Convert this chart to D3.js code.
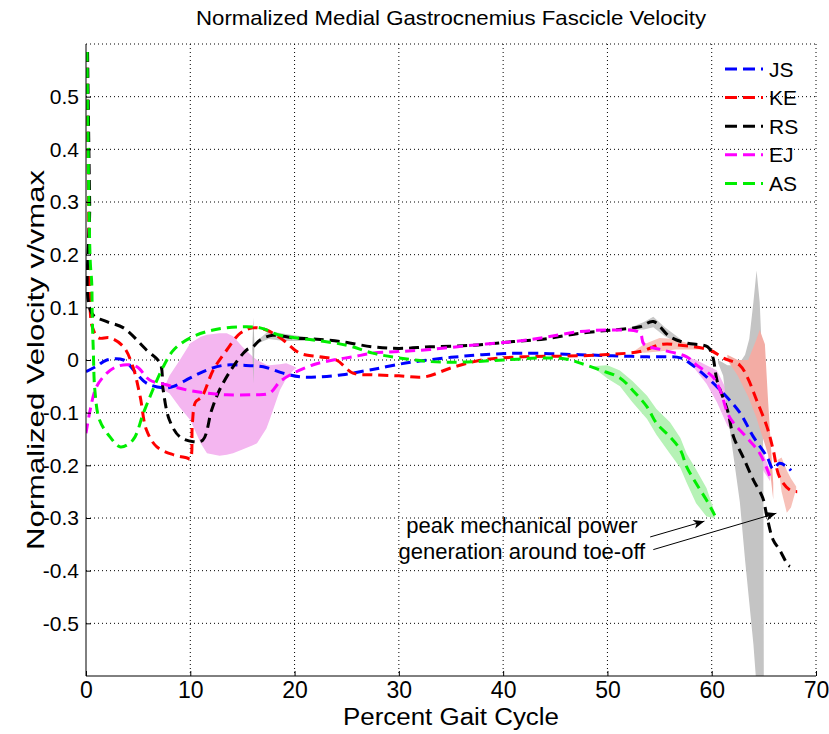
<!DOCTYPE html>
<html>
<head>
<meta charset="utf-8">
<script src="https://cdn.jsdelivr.net/npm/d3@7"></script>
<style>
  body { margin: 0; background: #fff; }
  svg text { font-family: "Liberation Sans", Arial, sans-serif; fill: #000; }
</style>
</head>
<body>
<svg width="829" height="734"></svg>
<script>
// mean curves, [percent gait cycle, v/vmax]
var jsData = [[0,-0.022],[1,-0.012],[2,0],[3.6,0],[4.8,-0.025],[5.8,-0.044],[7.4,-0.053],[8.4,-0.05],[10,-0.034],[11.6,-0.019],[13.2,-0.01],[15,-0.01],[17,-0.013],[18.9,-0.025],[20.5,-0.032],[22.4,-0.032],[24.6,-0.028],[26.9,-0.02],[28,-0.016],[30,-0.008],[32,-0.002],[35,0.005],[38,0.01],[42,0.013],[47.4,0.01],[50.5,0.008],[53.8,0.006],[57,0.004],[57.9,-0.006],[59.5,-0.032],[61.1,-0.063],[62.7,-0.1],[64,-0.146],[65.3,-0.184],[65.9,-0.207],[66.5,-0.196],[67.3,-0.204],[67.6,-0.21]];
var keData = [[0.1,0.585],[0.25,0.3],[0.4,0.095],[0.6,0.063],[1.2,0.042],[2.3,0.042],[3.6,0.025],[4.5,-0.013],[5.2,-0.07],[5.8,-0.133],[6.8,-0.165],[8.4,-0.18],[9.7,-0.186],[10,-0.188],[10.2,-0.12],[10.5,-0.08],[11.1,-0.07],[12.2,-0.019],[13.5,0.019],[14.8,0.051],[16,0.061],[17.3,0.057],[18.9,0.038],[20.5,0.013],[22.4,0.006],[24,0],[25.6,-0.025],[27.5,-0.028],[30,-0.03],[32.5,-0.032],[35,-0.015],[38,0],[42,0.006],[47.4,0.008],[50.5,0.011],[53.1,0.016],[55.3,0.03],[57,0.028],[59.8,0.019],[61.1,0.004],[62.7,-0.01],[63.4,-0.032],[64.3,-0.076],[65.3,-0.127],[65.9,-0.171],[66.5,-0.222],[67.5,-0.247],[68.2,-0.25]];
var rsData = [[0.15,0.585],[0.35,0.3],[0.55,0.089],[2,0.073],[3.6,0.061],[5.8,0.019],[7.1,-0.006],[7.4,-0.057],[8,-0.114],[9,-0.146],[10.3,-0.155],[11.2,-0.152],[12.05,-0.095],[12.8,-0.057],[14.1,-0.013],[15.4,0.019],[16,0.025],[16.7,0.038],[17.9,0.047],[19.9,0.042],[21.8,0.04],[24.4,0.035],[27.5,0.025],[30,0.022],[33,0.025],[37,0.028],[41,0.035],[44,0.04],[47.4,0.051],[50.5,0.057],[53.1,0.063],[54.4,0.073],[56,0.044],[57.6,0.032],[59.6,0.025],[60.1,0.006],[60.5,-0.038],[61.5,-0.095],[62.1,-0.146],[63,-0.184],[64,-0.228],[64.9,-0.262],[65.3,-0.298],[65.9,-0.342],[66.5,-0.36],[67.3,-0.389],[67.5,-0.392]];
var ejData = [[0,-0.139],[0.4,-0.095],[1,-0.051],[2,-0.025],[2.9,-0.013],[3.9,-0.009],[4.9,-0.013],[6.1,-0.038],[7.7,-0.047],[9.7,-0.057],[11.6,-0.063],[13.5,-0.066],[16,-0.066],[17.6,-0.063],[18.6,-0.041],[19.9,-0.025],[21.8,-0.009],[23.7,0],[25.6,0.006],[27.5,0.013],[30,0.016],[33,0.02],[37,0.028],[41,0.035],[44,0.043],[47.4,0.054],[50.5,0.057],[53.1,0.052],[53.5,0.03],[55.3,0.019],[57.6,0.006],[58.5,-0.009],[60.1,-0.032],[60.8,-0.057],[61.7,-0.108],[63.3,-0.146],[64.6,-0.177],[65.6,-0.222]];
var asData = [[0.1,0.585],[0.4,0.19],[0.55,0.146],[0.6,0.082],[0.7,0.019],[0.85,-0.057],[1.3,-0.114],[2.3,-0.146],[3.3,-0.165],[4.5,-0.152],[5.5,-0.101],[6.4,-0.057],[7.4,-0.013],[8.4,0.019],[10,0.042],[12.2,0.057],[14.8,0.063],[16.7,0.061],[18.6,0.047],[21.8,0.038],[25,0.028],[27.5,0.013],[30,0.004],[33,-0.003],[36,-0.004],[40,0],[44,0.004],[46,0.002],[47.4,-0.006],[49.3,-0.019],[51.2,-0.034],[52.4,-0.057],[53.8,-0.089],[54.7,-0.12],[56,-0.146],[57,-0.171],[57.6,-0.203],[58.5,-0.234],[59.5,-0.266],[60.3,-0.295]];

// spread bands, [x, low, high]
var ejBand1 = [[7.4,-0.057,-0.057],[8,-0.063,-0.03],[9,-0.09,0],[10,-0.114,0.032],[11,-0.158,0.044],[11.6,-0.177,0.048],[12.8,-0.182,0.051],[13.5,-0.18,0.051],[14.1,-0.177,0.045],[15,-0.17,0.025],[16,-0.162,0.006],[16.4,-0.158,0],[17.3,-0.13,-0.009],[17.6,-0.114,-0.01],[18.6,-0.057,-0.008],[19.2,-0.035,-0.006],[19.9,-0.019,-0.012],[20.2,-0.015,-0.015]];
var ejBand2 = [[57.5,0.006,0.006],[58.5,-0.02,0],[59.5,-0.045,-0.01],[60.5,-0.08,-0.02],[61.5,-0.125,-0.06],[62.5,-0.145,-0.1],[63.5,-0.17,-0.13],[64.6,-0.2,-0.16],[65.6,-0.23,-0.21]];
var keBand1 = [[52.5,0.016,0.016],[53.5,0.014,0.03],[55,0.016,0.042],[56.5,0.02,0.04],[58,0.02,0.03],[59,0.02,0.02]];
var keBand2 = [[61.5,0,0.01],[62.5,-0.03,0],[63.5,-0.07,0],[64.3,-0.11,0.04],[64.6,-0.13,0.057],[65.1,-0.16,0.03],[65.4,-0.18,-0.076],[65.7,-0.23,-0.171],[65.9,-0.265,-0.234]];
var keBand3 = [[66.3,-0.19,-0.19],[66.7,-0.25,-0.185],[67.2,-0.29,-0.21],[67.6,-0.28,-0.225],[68.1,-0.245,-0.24]];
var rsBand1 = [[15.95,0.02,0.025],[16.05,-0.045,0.08],[16.15,0.028,0.03]];
var rsBand2 = [[16.5,0.032,0.038],[17.5,0.04,0.055],[19,0.036,0.05],[21,0.036,0.044],[22,0.04,0.04]];
var rsBand3 = [[52,0.058,0.06],[53.5,0.058,0.072],[54.4,0.062,0.082],[55.5,0.045,0.062],[57,0.03,0.04]];
var rsBand4 = [[60.6,-0.005,0],[61.1,-0.03,-0.005],[61.5,-0.1,-0.01],[62,-0.17,-0.01],[62.7,-0.27,-0.005],[63.2,-0.38,0.01],[63.6,-0.46,0.04],[64,-0.54,0.11],[64.3,-0.62,0.17],[64.6,-0.65,0.11],[64.8,-0.65,0.02],[64.95,-0.65,-0.2],[65,-0.65,-0.65]];
var asBand = [[48.5,-0.012,-0.012],[50,-0.035,-0.01],[51.2,-0.05,-0.02],[52.4,-0.08,-0.04],[53.8,-0.112,-0.068],[54.7,-0.142,-0.093],[56,-0.178,-0.118],[57,-0.205,-0.148],[57.6,-0.233,-0.178],[58.5,-0.272,-0.208],[59.5,-0.297,-0.243],[60.3,-0.3,-0.29]];

var names = ['JS', 'KE', 'RS', 'EJ', 'AS'];
var colors = ['#0000ff', '#ff0000', '#000000', '#ff00ff', '#00ee00'];
var xTicks = [0, 10, 20, 30, 40, 50, 60, 70];
var yTicks = [-0.5, -0.4, -0.3, -0.2, -0.1, 0, 0.1, 0.2, 0.3, 0.4, 0.5];
var noteLines = ['peak mechanical power', 'generation around toe-off'];

var svg = d3.select('svg');
var pLeft = 86, pRight = 816, pTop = 44, pBottom = 676;

var x = d3.scaleLinear().domain([0, 70]).range([pLeft, pRight]);
var y = d3.scaleLinear().domain([-0.6, 0.6]).range([pBottom, pTop]);

svg.append('clipPath').attr('id', 'plot')
  .append('rect').attr('x', pLeft).attr('y', pTop)
  .attr('width', pRight - pLeft).attr('height', pBottom - pTop);

// dotted grid
svg.selectAll('.gx').data(xTicks.slice(1)).enter().append('line')
  .attr('x1', function (d) { return x(d); }).attr('x2', function (d) { return x(d); })
  .attr('y1', pTop).attr('y2', pBottom)
  .attr('stroke', '#000').attr('stroke-width', 1).attr('stroke-dasharray', '1,3');
svg.selectAll('.gy').data(yTicks.concat([0.6])).enter().append('line')
  .attr('x1', pLeft).attr('x2', pRight)
  .attr('y1', function (d) { return y(d); }).attr('y2', function (d) { return y(d); })
  .attr('stroke', '#000').attr('stroke-width', 1).attr('stroke-dasharray', '1,3');

// bands
var area = d3.area()
  .x(function (d) { return x(d[0]); })
  .y0(function (d) { return y(d[1]); })
  .y1(function (d) { return y(d[2]); });

var bands = [
  [ejBand1, '#f4b6f0'], [ejBand2, '#f4b6f0'],
  [asBand, '#b6f2b6'],
  [rsBand1, '#b8b8b8'], [rsBand2, '#c8c8c8'], [rsBand3, '#c8c8c8'], [rsBand4, '#c4c4c4'],
  [keBand1, '#f7c4bc'], [keBand2, '#f3aca4'], [keBand3, '#f7c0b8']
];
var bandG = svg.append('g').attr('clip-path', 'url(#plot)');
bands.forEach(function (b) {
  bandG.append('path').attr('d', area(b[0])).attr('fill', b[1]).attr('stroke', 'none');
});

// mean curves, drawn in legend order (AS ends on top)
var line = d3.line()
  .x(function (d) { return x(d[0]); })
  .y(function (d) { return y(d[1]); })
  .curve(d3.curveCatmullRom.alpha(0.5));

var series = [jsData, keData, rsData, ejData, asData];
var lineG = svg.append('g').attr('clip-path', 'url(#plot)');
series.forEach(function (s, i) {
  lineG.append('path').attr('d', line(s))
    .attr('fill', 'none').attr('stroke', colors[i])
    .attr('stroke-width', 3).attr('stroke-dasharray', '10,6');
});

// axes (MATLAB style, ticks inside)
var xAxis = d3.axisBottom(x).tickValues(xTicks).tickSize(-5).tickPadding(5)
  .tickFormat(d3.format('d'));
var gx = svg.append('g').attr('transform', 'translate(0,' + pBottom + ')').call(xAxis);
gx.select('.domain').attr('d', 'M' + pLeft + ',0H' + pRight).attr('stroke', '#000');
gx.selectAll('.tick line').attr('stroke', '#000');
gx.selectAll('.tick text').attr('font-size', 23).attr('dy', '0.72em')
  .style('font-family', '"Liberation Sans", Arial, sans-serif');

var yAxis = d3.axisLeft(y).tickValues(yTicks).tickSize(-5).tickPadding(7)
  .tickFormat(function (d) { return d === 0 ? '0' : d3.format('.1f')(d).replace('−', '-'); });
var gy = svg.append('g').attr('transform', 'translate(' + pLeft + ',0)').call(yAxis);
gy.select('.domain').attr('d', 'M0,' + pTop + 'V' + pBottom).attr('stroke', '#000');
gy.selectAll('.tick line').attr('stroke', '#000');
gy.selectAll('.tick text').attr('font-size', 21)
  .style('font-family', '"Liberation Sans", Arial, sans-serif');

// titles
svg.append('text').attr('x', (pLeft + pRight) / 2).attr('y', 25)
  .attr('text-anchor', 'middle').attr('font-size', 21)
  .attr('textLength', 510).attr('lengthAdjust', 'spacingAndGlyphs')
  .text('Normalized Medial Gastrocnemius Fascicle Velocity');
svg.append('text').attr('x', (pLeft + pRight) / 2).attr('y', 725)
  .attr('text-anchor', 'middle').attr('font-size', 23)
  .attr('textLength', 216).attr('lengthAdjust', 'spacingAndGlyphs')
  .text('Percent Gait Cycle');
svg.append('text').attr('transform', 'translate(44,' + ((pTop + pBottom) / 2) + ') rotate(-90)')
  .attr('text-anchor', 'middle').attr('font-size', 24)
  .attr('textLength', 380).attr('lengthAdjust', 'spacingAndGlyphs')
  .text('Normalized Velocity v/vmax');

// legend
var leg = svg.append('g');
names.forEach(function (n, i) {
  var ly = 69 + i * 28.6;
  leg.append('line').attr('x1', 725).attr('x2', 763).attr('y1', ly).attr('y2', ly)
    .attr('stroke', colors[i]).attr('stroke-width', 3).attr('stroke-dasharray', '12,6');
  leg.append('text').attr('x', 769).attr('y', ly + 7.5).attr('font-size', 21).text(n);
});

// annotation
noteLines.forEach(function (t, i) {
  svg.append('text').attr('x', x(41.8)).attr('y', y(-0.328 - i * 0.05))
    .attr('text-anchor', 'middle').attr('font-size', 22).text(t);
});
var arrows = [[[54.1, -0.336], [59.3, -0.306]], [[54.4, -0.36], [66.2, -0.291]]];
arrows.forEach(function (a) {
  var x0 = x(a[0][0]), y0 = y(a[0][1]), x1 = x(a[1][0]), y1 = y(a[1][1]);
  var ang = Math.atan2(y1 - y0, x1 - x0);
  svg.append('line').attr('x1', x0).attr('y1', y0).attr('x2', x1).attr('y2', y1)
    .attr('stroke', '#000').attr('stroke-width', 1);
  var L = 11, W = 4.5;
  var bx = x1 - L * Math.cos(ang), by = y1 - L * Math.sin(ang);
  var pts = [[x1, y1],
    [bx + W * Math.sin(ang), by - W * Math.cos(ang)],
    [bx + 3 * Math.cos(ang), by + 3 * Math.sin(ang)],
    [bx - W * Math.sin(ang), by + W * Math.cos(ang)]];
  svg.append('polygon').attr('points', pts.map(function (p) { return p.join(','); }).join(' '))
    .attr('fill', '#000');
});
</script>
</body>
</html>
